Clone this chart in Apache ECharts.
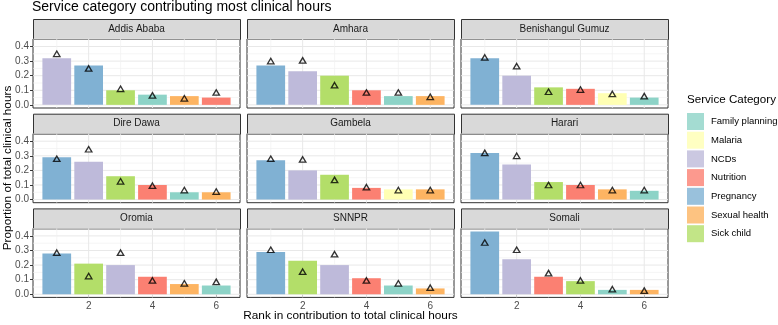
<!DOCTYPE html>
<html lang="en" style="height: 100%">
<head>
  <meta charset="utf-8">
</head>
<body style="height: 100%; margin: 0; background: #fff">
<div id="container" style="width: 778px; height: 325px"></div>

<script type="text/javascript" src="https://fastly.jsdelivr.net/npm/echarts@6/dist/echarts.min.js"></script>
<script type="text/javascript">
  // data
  var regions = ['Addis Ababa', 'Amhara', 'Benishangul Gumuz', 'Dire Dawa', 'Gambela', 'Harari', 'Oromia', 'SNNPR', 'Somali'];
  var categories = ['Family planning', 'Malaria', 'NCDs', 'Nutrition', 'Pregnancy', 'Sexual health', 'Sick child'];
  var categoryColors = ['#8DD3C7', '#FFFFB3', '#BEBADA', '#FB8072', '#80B1D3', '#FDB462', '#B3DE69'];
  var ranks = [1, 2, 3, 4, 5, 6];
  var rankCategory = [
    ['NCDs', 'Pregnancy', 'Sick child', 'Family planning', 'Sexual health', 'Nutrition'],
    ['Pregnancy', 'NCDs', 'Sick child', 'Nutrition', 'Family planning', 'Sexual health'],
    ['Pregnancy', 'NCDs', 'Sick child', 'Nutrition', 'Malaria', 'Family planning'],
    ['Pregnancy', 'NCDs', 'Sick child', 'Nutrition', 'Family planning', 'Sexual health'],
    ['Pregnancy', 'NCDs', 'Sick child', 'Nutrition', 'Malaria', 'Sexual health'],
    ['Pregnancy', 'NCDs', 'Sick child', 'Nutrition', 'Sexual health', 'Family planning'],
    ['Pregnancy', 'Sick child', 'NCDs', 'Nutrition', 'Sexual health', 'Family planning'],
    ['Pregnancy', 'Sick child', 'NCDs', 'Nutrition', 'Family planning', 'Sexual health'],
    ['Pregnancy', 'NCDs', 'Nutrition', 'Sick child', 'Family planning', 'Sexual health']
  ];
  var barValues = [
    [0.32, 0.27, 0.10, 0.07, 0.06, 0.05],
    [0.27, 0.23, 0.20, 0.10, 0.06, 0.06],
    [0.32, 0.20, 0.12, 0.11, 0.08, 0.05],
    [0.29, 0.26, 0.16, 0.10, 0.05, 0.05],
    [0.27, 0.20, 0.17, 0.08, 0.07, 0.07],
    [0.32, 0.24, 0.12, 0.10, 0.07, 0.06],
    [0.28, 0.21, 0.20, 0.12, 0.07, 0.06],
    [0.29, 0.23, 0.20, 0.11, 0.06, 0.04],
    [0.43, 0.24, 0.12, 0.09, 0.03, 0.03]
  ];
  var triangleValues = [
    [0.35, 0.25, 0.11, 0.065, 0.045, 0.085],
    [0.30, 0.305, 0.135, 0.085, 0.085, 0.055],
    [0.325, 0.265, 0.09, 0.105, 0.075, 0.06],
    [0.28, 0.345, 0.125, 0.095, 0.065, 0.055],
    [0.28, 0.275, 0.135, 0.085, 0.065, 0.065],
    [0.32, 0.30, 0.10, 0.10, 0.065, 0.065],
    [0.285, 0.125, 0.285, 0.095, 0.075, 0.085],
    [0.305, 0.155, 0.275, 0.095, 0.075, 0.045],
    [0.355, 0.305, 0.145, 0.095, 0.035, 0.025]
  ];
  var yTicks = [0, 0.1, 0.2, 0.3, 0.4];
  var xTicks = [2, 4, 6];
  var yGridLines = [0, 0.05, 0.1, 0.15, 0.2, 0.25, 0.3, 0.35, 0.4, 0.45];
  var xGridLines = [1, 2, 3, 4, 5, 6];

  // layout
  var colLeft = [33, 247, 461];
  var rowTop = [39, 133.7, 228.4];
  var panelW = 207, panelH = 69, stripH = 20;
  var xMin = 0.255, xMax = 6.745, yMin = -0.0215, yMax = 0.4515;
  var fontFamily = '"Liberation Sans", Arial, sans-serif';

  var dom = document.getElementById('container');
  var myChart = echarts.init(dom, null, { renderer: 'canvas' });

  function renderGridLine(params, api) {
    var cs = params.coordSys;
    var dir = api.value(0), v = api.value(1), major = api.value(2);
    var style = { stroke: major ? '#E8E8E8' : '#F1F1F1', lineWidth: major ? 1 : 0.7 };
    if (dir === 0) {
      var y = api.coord([3, v])[1];
      return { type: 'line', shape: { x1: cs.x, y1: y, x2: cs.x + cs.width, y2: y }, style: style };
    }
    var x = api.coord([v, 0.2])[0];
    return { type: 'line', shape: { x1: x, y1: cs.y, x2: x, y2: cs.y + cs.height }, style: style };
  }

  function renderBar(params, api) {
    var x = api.value(0), v = api.value(1), c = api.value(2);
    var p1 = api.coord([x - 0.45, v]);
    var p2 = api.coord([x + 0.45, 0]);
    return {
      type: 'rect',
      shape: { x: p1[0], y: p1[1], width: p2[0] - p1[0], height: p2[1] - p1[1] },
      style: { fill: categoryColors[c] }
    };
  }

  var grids = [], xAxes = [], yAxes = [], series = [], graphics = [];

  regions.forEach(function (name, i) {
    var row = Math.floor(i / 3), col = i % 3;
    var left = colLeft[col], top = rowTop[row];
    grids.push({
      left: left, top: top, width: panelW, height: panelH,
      show: true, borderColor: '#333333', borderWidth: 1, backgroundColor: '#fff'
    });
    var bottomRow = row === 2, firstCol = col === 0;
    xAxes.push({
      type: 'value', gridIndex: i, min: xMin, max: xMax,
      axisLine: { show: false }, splitLine: { show: false },
      axisTick: { show: bottomRow, customValues: xTicks, length: 3, lineStyle: { color: '#333' } },
      axisLabel: { show: bottomRow, customValues: xTicks, fontSize: 10, color: '#4D4D4D', margin: 4, fontFamily: fontFamily }
    });
    yAxes.push({
      type: 'value', gridIndex: i, min: yMin, max: yMax,
      axisLine: { show: false }, splitLine: { show: false },
      axisTick: { show: firstCol, customValues: yTicks, length: 3, lineStyle: { color: '#333' } },
      axisLabel: {
        show: firstCol, customValues: yTicks, fontSize: 10, color: '#4D4D4D', margin: 4, fontFamily: fontFamily,
        formatter: function (v) { return v.toFixed(1); }
      }
    });

    var gridData = [];
    yGridLines.forEach(function (v, k) { gridData.push([0, v, k % 2 === 0 ? 1 : 0]); });
    xGridLines.forEach(function (v) { gridData.push([1, v, v % 2 === 0 ? 1 : 0]); });
    series.push({
      type: 'custom', name: 'grid' + i, xAxisIndex: i, yAxisIndex: i, z: 1, silent: true,
      renderItem: renderGridLine, data: gridData, encode: { x: 1, y: 1 }
    });

    series.push({
      type: 'custom', name: 'bars' + i, xAxisIndex: i, yAxisIndex: i, z: 2,
      renderItem: renderBar,
      data: ranks.map(function (r, k) {
        return [r, barValues[i][k], categories.indexOf(rankCategory[i][k])];
      }),
      encode: { x: 0, y: 1 }
    });

    series.push({
      type: 'scatter', name: 'share' + i, xAxisIndex: i, yAxisIndex: i, z: 3,
      symbol: 'triangle', symbolSize: [6.5, 5.5],
      itemStyle: { color: 'rgba(0,0,0,0)', borderColor: '#000', borderWidth: 1.3 },
      data: ranks.map(function (r, k) { return [r, triangleValues[i][k]]; })
    });

    // facet strip
    graphics.push({
      type: 'rect', left: left, top: top - stripH,
      shape: { width: panelW, height: stripH },
      style: { fill: '#D9D9D9', stroke: '#333333', lineWidth: 1 }
    });
    graphics.push({
      type: 'text', x: left + panelW / 2, y: top - stripH / 2,
      style: { text: name, fill: '#1A1A1A', font: '10px ' + fontFamily, align: 'center', verticalAlign: 'middle' }
    });
  });

  // legend-only series
  categories.forEach(function (c, k) {
    series.push({ type: 'scatter', name: c, xAxisIndex: 0, yAxisIndex: 0, data: [], itemStyle: { color: categoryColors[k] } });
  });

  graphics.push({
    type: 'text', x: 350.5, y: 316,
    style: { text: 'Rank in contribution to total clinical hours', fill: '#000', font: '11.8px ' + fontFamily, align: 'center', verticalAlign: 'middle' }
  });
  graphics.push({
    type: 'text', x: 8, y: 168, rotation: Math.PI / 2,
    style: { text: 'Proportion of total clinical hours', fill: '#000', font: '11.8px ' + fontFamily, align: 'center', verticalAlign: 'middle' }
  });

  var option = {
    animation: false,
    backgroundColor: '#fff',
    title: [
      { text: 'Service category contributing most clinical hours', left: 32, top: 0, padding: 0,
        textStyle: { fontSize: 14, fontWeight: 'normal', color: '#000', fontFamily: fontFamily } },
      { text: 'Service Category', left: 687, top: 94, padding: 0,
        textStyle: { fontSize: 11.6, fontWeight: 'normal', color: '#000', fontFamily: fontFamily } }
    ],
    legend: {
      data: categories, orient: 'vertical', left: 687, top: 113, padding: 0,
      icon: 'rect', itemWidth: 17, itemHeight: 17, itemGap: 1.7,
      textStyle: { fontSize: 9.5, color: '#000', fontFamily: fontFamily, padding: [0, 0, 0, 2] },
      selectedMode: false
    },
    grid: grids,
    xAxis: xAxes,
    yAxis: yAxes,
    series: series,
    graphic: graphics
  };

  myChart.setOption(option);
  window.addEventListener('resize', myChart.resize);
</script>
</body>
</html>
